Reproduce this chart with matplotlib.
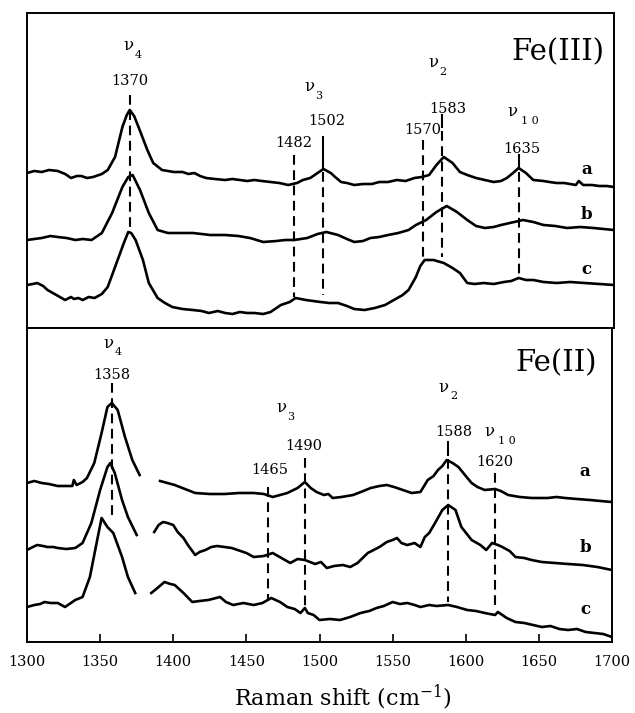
import matplotlib
matplotlib.use("Agg")
import matplotlib.pyplot as plt

plt.rcParams['font.family'] = ['DejaVu Serif', 'DejaVu Sans']
plt.rcParams['mathtext.fontset'] = 'dejavuserif'
plt.rcParams['lines.scale_dashes'] = False

# ---------------- data: Fe(III) panel (relative intensity, offset traces) ----------------
fe3_a_x = [1300, 1305, 1310, 1315, 1321, 1326, 1330, 1334, 1337, 1341, 1345, 1351, 1355, 1360, 1365, 1368, 1370,
           1373, 1376, 1382, 1386, 1392, 1400, 1406, 1410, 1414, 1418, 1422, 1428, 1435, 1440, 1445, 1450, 1455,
           1460, 1466, 1472, 1478, 1484, 1488, 1493, 1498, 1502, 1507, 1510, 1514, 1518, 1523, 1529, 1535, 1540,
           1546, 1552, 1558, 1564, 1569, 1574, 1579, 1584, 1590, 1595, 1600, 1606, 1612, 1618, 1623, 1627, 1632,
           1635, 1640, 1645, 1652, 1656, 1661, 1666, 1670, 1674, 1676, 1679, 1685, 1690, 1695, 1700]
fe3_a_y = [155, 157, 156, 158, 157, 154, 150, 152, 152, 150, 151, 154, 158, 171, 201, 213, 218,
           212, 201, 178, 165, 158, 156, 156, 154, 155, 152, 150, 149, 148, 149, 148, 147, 148,
           147, 146, 145, 143, 145, 148, 150, 155, 159, 155, 151, 146, 145, 143, 144, 144, 146,
           146, 148, 147, 150, 151, 153, 163, 171, 165, 156, 153, 150, 148, 146, 147, 150, 156,
           160, 155, 148, 147, 146, 145, 145, 144, 143, 147, 143, 143, 142, 142, 141]

fe3_b_x = [1300, 1305, 1310, 1316, 1321, 1327, 1333, 1338, 1344, 1351, 1358, 1365, 1369, 1372, 1377, 1383, 1389,
           1396, 1405, 1413, 1419, 1425, 1435, 1444, 1452, 1461, 1470, 1476, 1482, 1491, 1498, 1504, 1512, 1518,
           1523, 1529, 1534, 1540, 1546, 1553, 1560, 1565, 1572, 1579, 1586, 1593, 1600, 1606, 1612, 1618, 1623,
           1629, 1635, 1638, 1645, 1652, 1660, 1668, 1677, 1686, 1693, 1700]
fe3_b_y = [88, 89, 90, 92, 91, 90, 88, 89, 88, 95, 115, 141, 151, 153, 138, 115, 98,
           95, 95, 95, 94, 93, 93, 92, 90, 86, 87, 88, 88, 90, 94, 96, 93, 89,
           86, 87, 90, 91, 93, 95, 98, 103, 108, 116, 122, 116, 108, 102, 100, 101, 103,
           105, 107, 108, 106, 103, 102, 100, 101, 100, 99, 98]

fe3_c_x = [1300, 1304, 1307, 1311, 1314, 1320, 1326, 1330, 1332, 1335, 1338, 1342, 1346, 1351, 1355, 1360, 1366,
           1369, 1371, 1374, 1379, 1383, 1389, 1394, 1399, 1406, 1413, 1419, 1424, 1430, 1435, 1440, 1445, 1450,
           1455, 1461, 1466, 1473, 1479, 1483, 1490, 1495, 1500, 1506, 1512, 1518, 1523, 1530, 1537, 1544, 1550,
           1556, 1560, 1565, 1568, 1571, 1577, 1584, 1590, 1595, 1600, 1605, 1611, 1618, 1625, 1630, 1635, 1640,
           1645, 1652, 1661, 1670, 1680, 1690, 1700]
fe3_c_y = [43, 44, 45, 42, 38, 33, 28, 31, 29, 30, 28, 31, 30, 34, 41, 61, 85,
           96, 95, 88, 68, 45, 30, 25, 21, 19, 18, 17, 15, 17, 15, 14, 16, 15,
           15, 14, 16, 23, 26, 30, 28, 27, 26, 25, 25, 22, 19, 18, 20, 23, 28,
           33, 38, 51, 62, 68, 68, 65, 60, 55, 45, 44, 45, 44, 46, 47, 50, 48,
           48, 46, 45, 46, 45, 44, 43]

# ---------------- data: Fe(II) panel (two segments, gap near 1380) ----------------
fe2_a1_x = [1300, 1305, 1310, 1315, 1321, 1326, 1331, 1332, 1334, 1338, 1341, 1346, 1351, 1355, 1358, 1362, 1367, 1372, 1377]
fe2_a1_y = [159, 161, 159, 158, 156, 156, 156, 162, 157, 160, 164, 179, 209, 235, 239, 232, 205, 182, 167]
fe2_a2_x = [1391, 1396, 1401, 1408, 1415, 1425, 1435, 1445, 1455, 1462, 1468, 1473, 1478, 1485, 1490, 1494, 1498,
            1503, 1506, 1509, 1515, 1523, 1530, 1535, 1541, 1546, 1551, 1555, 1563, 1569, 1574, 1578, 1581, 1584,
            1587, 1591, 1595, 1600, 1604, 1608, 1613, 1620, 1624, 1629, 1637, 1645, 1656, 1662, 1668, 1676, 1685,
            1692, 1700]
fe2_a2_y = [161, 159, 157, 153, 149, 148, 148, 149, 149, 148, 145, 147, 149, 154, 160, 154, 150,
            147, 148, 144, 145, 147, 151, 154, 156, 157, 155, 153, 149, 150, 162, 166, 172, 176,
            182, 179, 175, 166, 159, 155, 152, 153, 151, 147, 145, 144, 144, 145, 144, 143, 142,
            141, 140]

fe2_b1_x = [1300, 1304, 1307, 1311, 1314, 1318, 1321, 1327, 1333, 1338, 1344, 1350, 1355, 1357, 1360, 1365, 1369, 1375]
fe2_b1_y = [92, 95, 97, 96, 95, 95, 94, 93, 94, 99, 119, 152, 175, 179, 169, 142, 125, 107]
fe2_b2_x = [1387, 1390, 1393, 1396, 1400, 1403, 1407, 1410, 1415, 1418, 1422, 1426, 1430, 1435, 1440, 1444, 1450,
            1455, 1462, 1468, 1474, 1480, 1485, 1490, 1497, 1501, 1505, 1510, 1516, 1521, 1526, 1533, 1537, 1541,
            1546, 1550, 1553, 1556, 1560, 1565, 1569, 1572, 1575, 1579, 1584, 1588, 1593, 1597, 1604, 1610, 1614,
            1618, 1622, 1625, 1630, 1634, 1640, 1645, 1652, 1661, 1670, 1680, 1690, 1700]
fe2_b2_y = [110, 117, 120, 119, 117, 110, 104, 97, 87, 90, 92, 95, 96, 95, 94, 92, 89,
            85, 86, 89, 84, 79, 83, 82, 78, 80, 74, 76, 77, 75, 79, 89, 92, 95,
            100, 102, 104, 99, 97, 99, 95, 105, 109, 119, 132, 137, 132, 115, 102, 97, 92,
            99, 97, 95, 91, 85, 84, 82, 80, 79, 78, 77, 75, 72]

fe2_c1_x = [1300, 1305, 1309, 1312, 1316, 1321, 1326, 1330, 1333, 1338, 1343, 1348, 1351, 1355, 1359, 1365, 1369, 1374]
fe2_c1_y = [35, 37, 38, 40, 39, 39, 35, 39, 42, 45, 65, 102, 124, 115, 109, 85, 65, 49]
fe2_c2_x = [1385, 1390, 1394, 1398, 1401, 1407, 1413, 1418, 1424, 1432, 1436, 1441, 1448, 1455, 1461, 1467, 1473,
            1478, 1483, 1487, 1490, 1492, 1496, 1500, 1507, 1514, 1521, 1528, 1534, 1539, 1544, 1550, 1555, 1560,
            1565, 1569, 1575, 1580, 1588, 1594, 1601, 1607, 1613, 1620, 1622, 1628, 1634, 1640, 1646, 1652, 1658,
            1664, 1670, 1676, 1682, 1688, 1694, 1700]
fe2_c2_y = [49, 55, 60, 58, 57, 49, 40, 41, 42, 45, 40, 37, 39, 37, 39, 44, 40,
            35, 33, 29, 34, 29, 27, 22, 23, 22, 25, 29, 31, 34, 36, 40, 38, 39,
            37, 35, 37, 36, 37, 35, 32, 31, 29, 27, 30, 24, 20, 19, 17, 15, 16,
            13, 12, 13, 10, 9, 8, 5]

# ---------------- labels ----------------
x_ticks = [1300, 1350, 1400, 1450, 1500, 1550, 1600, 1650, 1700]
x_label = "Raman shift (cm$^{-1}$)"
trace_names = ["a", "b", "c"]
fe3_title = "Fe(III)"
fe2_title = "Fe(II)"
fe3_peaks = [1370, 1482, 1502, 1570, 1583, 1635]
fe2_peaks = [1358, 1465, 1490, 1588, 1620]

W, H = 635, 713
fig = plt.figure(figsize=(W / 100, H / 100), dpi=100)

def ax_rect(l, t, r, b):
    return [l / W, 1 - b / H, (r - l) / W, (b - t) / H]

ax1 = fig.add_axes(ax_rect(27, 13, 614, 328))
ax2 = fig.add_axes(ax_rect(27, 328, 612, 642))

LW = 1.9
for ax, ymax in ((ax1, 315), (ax2, 314)):
    ax.set_xlim(1300, 1700)
    ax.set_ylim(0, ymax)
    for s in ax.spines.values():
        s.set_linewidth(1.4)
    ax.set_yticks([])

ax1.set_xticks([])

# traces
for xs, ys in ((fe3_a_x, fe3_a_y), (fe3_b_x, fe3_b_y), (fe3_c_x, fe3_c_y)):
    ax1.plot(xs, ys, color='black', lw=LW, solid_joinstyle='round')
for xs, ys in ((fe2_a1_x, fe2_a1_y), (fe2_a2_x, fe2_a2_y), (fe2_b1_x, fe2_b1_y),
               (fe2_b2_x, fe2_b2_y), (fe2_c1_x, fe2_c1_y), (fe2_c2_x, fe2_c2_y)):
    ax2.plot(xs, ys, color='black', lw=LW, solid_joinstyle='round')

DASH = (0, (7, 4))
DLW = 1.5

def vline(ax, x, y0, y1, solid_to=None):
    if solid_to is not None:
        ax.plot([x, x], [y0, solid_to], color='black', lw=DLW)
        y0 = solid_to - 4
    ax.plot([x, x], [y0, y1], color='black', lw=DLW, linestyle=DASH)

# Fe(III) marker lines
vline(ax1, fe3_peaks[0], 233, 95)
vline(ax1, fe3_peaks[1], 173, 31)
vline(ax1, fe3_peaks[2], 191, 33, solid_to=160)
vline(ax1, fe3_peaks[3], 188, 70)
vline(ax1, fe3_peaks[4], 213, 71, solid_to=201)
vline(ax1, fe3_peaks[5], 173, 51, solid_to=160)

# Fe(II) marker lines
vline(ax2, fe2_peaks[0], 259, 122)
vline(ax2, fe2_peaks[1], 155, 42)
vline(ax2, fe2_peaks[2], 184, 32)
vline(ax2, fe2_peaks[3], 200, 40, solid_to=187)
vline(ax2, fe2_peaks[4], 169, 32)

NUM = 10.5
NU = 12
SUB = 8

def nu(ax, x, y, sub, dx=6.5, dy=-9):
    ax.text(x, y, "ν", fontsize=NU, ha='center', va='center')
    ax.text(x + dx, y + dy, sub, fontsize=SUB, ha='center', va='center')

def num(ax, x, y, s):
    ax.text(x, y, s, fontsize=NUM, ha='center', va='center')

# Fe(III) labels
nu(ax1, 1369, 282, "4")
num(ax1, 1370, 247, "1370")
nu(ax1, 1492.5, 241, "3")
num(ax1, 1504, 207, "1502")
num(ax1, 1482, 185, "1482")
nu(ax1, 1577, 265, "2")
num(ax1, 1587, 219, "1583")
num(ax1, 1570, 198, "1570")
nu(ax1, 1631, 216, "1 0", dx=12)
num(ax1, 1637, 179, "1635")
ax1.text(1662, 276, fe3_title, fontsize=21, ha='center', va='center')
for name, yy in zip(trace_names, (158, 113, 58)):
    ax1.text(1681.5, yy, name, fontsize=12, ha='center', va='center', fontweight='bold')

# Fe(II) labels
nu(ax2, 1356, 299, "4")
num(ax2, 1358, 267, "1358")
nu(ax2, 1474, 234, "3")
num(ax2, 1489, 196, "1490")
num(ax2, 1466, 172, "1465")
nu(ax2, 1585, 255, "2")
num(ax2, 1592, 210, "1588")
nu(ax2, 1616, 210, "1 0", dx=12)
num(ax2, 1620, 180, "1620")
ax2.text(1662, 279, fe2_title, fontsize=21, ha='center', va='center')
for name, yy in zip(trace_names, (170, 95, 32)):
    ax2.text(1681.5, yy, name, fontsize=12, ha='center', va='center', fontweight='bold')

ax2.set_xticks(x_ticks)
ax2.set_xticklabels([str(t) for t in x_ticks], fontsize=NUM)
ax2.tick_params(axis='x', direction='in', length=6, width=1.2, pad=9)

fig.text(343 / W, 1 - 697 / H, x_label, fontsize=16, ha='center', va='center')

fig.savefig("out.png", dpi=100)
